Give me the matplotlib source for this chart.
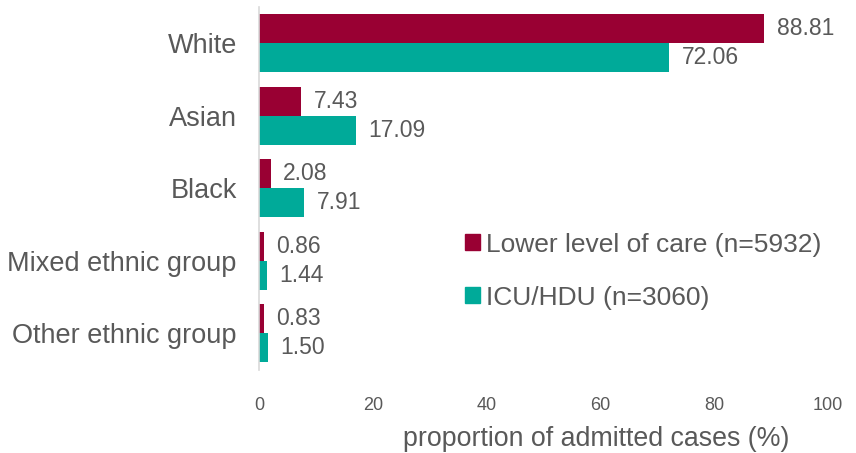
import numpy as np
import matplotlib
matplotlib.use("Agg")
import matplotlib.pyplot as plt
from matplotlib.patches import Patch

plt.rcParams['font.family'] = ['Liberation Sans', 'DejaVu Sans']

groups = ["White", "Asian", "Black", "Mixed ethnic group", "Other ethnic group"]
lower_care = [88.81, 7.43, 2.08, 0.86, 0.83]
icu_hdu = [72.06, 17.09, 7.91, 1.44, 1.50]
lower_label = "Lower level of care (n=5932)"
icu_label = "ICU/HDU (n=3060)"

red = "#990033"
teal = "#00AA99"
grey = "#595959"

fig = plt.figure(figsize=(8.56, 4.53), dpi=100)
ax = fig.add_axes([0.3026, 0.184, 0.6645, 0.8005])

y = np.arange(len(groups))
h = 0.4
ax.barh(y - h / 2, lower_care, height=h, color=red)
ax.barh(y + h / 2, icu_hdu, height=h, color=teal)

for yi, v in zip(y - h / 2, lower_care):
    ax.annotate(f"{v:.2f}", (v, yi), xytext=(9, 0), textcoords="offset points",
                va="center", ha="left", fontsize=16.5, color=grey)
for yi, v in zip(y + h / 2, icu_hdu):
    ax.annotate(f"{v:.2f}", (v, yi), xytext=(9, 0), textcoords="offset points",
                va="center", ha="left", fontsize=16.5, color=grey)

ax.set_xlim(0, 100)
ax.set_ylim(4.5, -0.5)
ax.set_xticks([0, 20, 40, 60, 80, 100])
ax.set_yticks(y)
ax.set_yticklabels(groups, fontsize=19.5, color=grey)
ax.tick_params(axis="x", labelsize=13, colors=grey, length=0, pad=20)
ax.tick_params(axis="y", length=0, pad=16)
ax.set_xlabel("proportion of admitted cases (%)", fontsize=19.3, color=grey)
ax.xaxis.set_label_coords(0.593, -0.155)
ax.xaxis.label.set_va("top")

for s in ["top", "right", "bottom"]:
    ax.spines[s].set_visible(False)
ax.spines["left"].set_color("#d9d9d9")
ax.spines["left"].set_linewidth(1.2)

handles = [Patch(color=red), Patch(color=teal)]
ax.legend(handles, [lower_label, icu_label], loc="upper left",
          bbox_to_anchor=(0.344, 0.407), frameon=False, fontsize=19,
          labelcolor=grey, handlelength=0.55, handleheight=0.55,
          handletextpad=0.25, labelspacing=1.1, borderaxespad=0)

fig.savefig("out.png", dpi=100)
